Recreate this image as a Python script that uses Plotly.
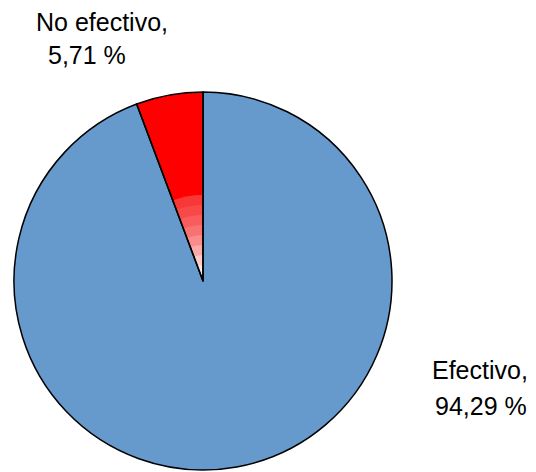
import plotly.graph_objects as go

labels = ["Efectivo", "No efectivo"]
values = [94.29, 5.71]
colors = ["#6699CC", "#FF0000"]
label_lines = [["No efectivo,", "5,71 %"], ["Efectivo,", "94,29 %"]]
# light shading toward the centre of the small slice (radius in px, colour)
shade_radii = [86, 76, 66, 56, 46, 36, 26, 16]
shade_colors = ["#F83838", "#F84848", "#F85C5C", "#F87272", "#FA8C8C", "#FBAAAA", "#FDCACA", "#FEE8E8"]

W, H = 536, 472
cx, cy, r = 203, 281, 189


def dom(rad):
    return dict(x=[(cx - rad) / W, (cx + rad) / W], y=[1 - (cy + rad) / H, 1 - (cy - rad) / H])


common = dict(labels=labels, values=values, sort=False, direction="clockwise",
              rotation=0, textinfo="none", showlegend=False)

fig = go.Figure()
fig.add_trace(go.Pie(**common, hoverinfo="label+percent",
                     marker=dict(colors=colors, line=dict(width=0)), domain=dom(r)))
for rad, col in zip(shade_radii, shade_colors):
    fig.add_trace(go.Pie(**common, hoverinfo="skip",
                         marker=dict(colors=["rgba(0,0,0,0)", col], line=dict(width=0)),
                         domain=dom(rad)))
fig.add_trace(go.Pie(**common, hoverinfo="skip",
                     marker=dict(colors=["rgba(0,0,0,0)", "rgba(0,0,0,0)"],
                                 line=dict(color="black", width=1.5)),
                     domain=dom(r)))

font = dict(family="Liberation Sans, Arial, sans-serif", size=25, color="black")
positions = [[(102, 22), (87, 55)], [(480, 370), (481, 406)]]
for lines, pos in zip(label_lines, positions):
    for txt, (x, y) in zip(lines, pos):
        fig.add_annotation(x=x / W, y=1 - y / H, xref="paper", yref="paper",
                           text=txt, showarrow=False, font=font,
                           xanchor="center", yanchor="middle")

fig.update_layout(width=W, height=H, margin=dict(l=0, r=0, t=0, b=0),
                  paper_bgcolor="white", plot_bgcolor="white")
fig.write_html("out.html")
